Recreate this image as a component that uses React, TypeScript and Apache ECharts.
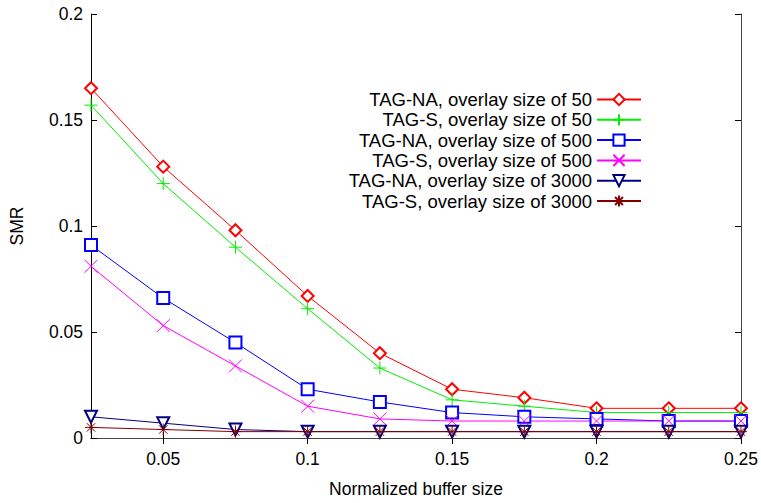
import React, { useEffect, useRef } from 'react';
import * as echarts from 'echarts';

const xValues = [0.025, 0.05, 0.075, 0.1, 0.125, 0.15, 0.175, 0.2, 0.225, 0.25];
const xTicks = [0.05, 0.1, 0.15, 0.2, 0.25];

const seriesNames = [
  'TAG-NA, overlay size of 50',
  'TAG-S, overlay size of 50',
  'TAG-NA, overlay size of 500',
  'TAG-S, overlay size of 500',
  'TAG-NA, overlay size of 3000',
  'TAG-S, overlay size of 3000',
];

const tagNa50 = [0.165, 0.128, 0.098, 0.067, 0.04, 0.023, 0.019, 0.014, 0.014, 0.014];
const tagS50 = [0.157, 0.12, 0.09, 0.061, 0.033, 0.018, 0.015, 0.012, 0.012, 0.012];
const tagNa500 = [0.091, 0.066, 0.045, 0.023, 0.017, 0.012, 0.01, 0.009, 0.008, 0.008];
const tagS500 = [0.081, 0.053, 0.034, 0.015, 0.009, 0.008, 0.008, 0.008, 0.008, 0.008];
const tagNa3000 = [0.01, 0.007, 0.004, 0.003, 0.003, 0.003, 0.003, 0.003, 0.003, 0.003];
const tagS3000 = [0.005, 0.004, 0.003, 0.003, 0.003, 0.003, 0.003, 0.003, 0.003, 0.003];

const seriesValues = [tagNa50, tagS50, tagNa500, tagS500, tagNa3000, tagS3000];
const colors = ['#ff0000', '#00ee00', '#0000ff', '#ff00ff', '#000080', '#800000'];
const symbols = [
  'emptyDiamond',
  'path://M0,5L10,5M5,0L5,10',
  'emptyRect',
  'path://M0,0L10,10M10,0L0,10',
  'emptyTriangle',
  'path://M0,5L10,5M5,0L5,10M1.5,1.5L8.5,8.5M8.5,1.5L1.5,8.5',
];
const symbolRotates = [0, 0, 0, 0, 180, 0];
const symbolSizes = [12, 13, 12, 13, 12, 12];

const FONT = 'Liberation Sans, Arial, Helvetica, sans-serif';

export default function App() {
  const ref = useRef<HTMLDivElement>(null);
  useEffect(() => {
    if (!ref.current) return;
    const chart = echarts.init(ref.current, undefined, { renderer: 'svg' });
    const series = seriesNames.map((name, i) => ({
      name,
      type: 'line',
      data: xValues.map((x, j) => [x, seriesValues[i][j]]),
      symbol: symbols[i],
      symbolSize: symbolSizes[i],
      symbolRotate: symbolRotates[i],
      clip: false,
      lineStyle: { color: colors[i], width: 1 },
      itemStyle: { color: colors[i], borderColor: colors[i], borderWidth: 1 },
      emphasis: { disabled: true },
    }));
    const axisFont = { fontFamily: FONT, fontSize: 17.5, color: '#000' };
    chart.setOption({
      animation: false,
      grid: { left: 86, right: 18, top: 14, bottom: 60 },
      legend: {
        orient: 'vertical',
        align: 'right',
        right: 119,
        top: 90,
        padding: 0,
        itemWidth: 44,
        itemHeight: 14,
        itemGap: 1.3,
        selectedMode: false,
        textStyle: { fontFamily: FONT, fontSize: 18.5, color: '#000' },
        data: seriesNames,
      },
      xAxis: [
        {
          type: 'value',
          min: 0.025,
          max: 0.25,
          name: 'Normalized buffer size',
          nameLocation: 'middle',
          nameGap: 42,
          nameTextStyle: axisFont,
          axisLine: { show: true, lineStyle: { color: '#000', width: 1 } },
          axisTick: { show: true, inside: true, length: 6, customValues: xTicks, lineStyle: { color: '#000' } },
          axisLabel: { customValues: xTicks, margin: 12, ...axisFont, formatter: (v: number) => String(+v.toFixed(3)) },
          splitLine: { show: false },
        },
        {
          type: 'value',
          position: 'top',
          min: 0.025,
          max: 0.25,
          axisLine: { show: true, lineStyle: { color: '#444', width: 1 } },
          axisTick: { show: true, inside: true, length: 6, customValues: xTicks, lineStyle: { color: '#000' } },
          axisLabel: { show: false },
          splitLine: { show: false },
        },
      ],
      yAxis: [
        {
          type: 'value',
          min: 0,
          max: 0.2,
          interval: 0.05,
          name: 'SMR',
          nameLocation: 'middle',
          nameGap: 65,
          nameTextStyle: axisFont,
          axisLine: { show: true, lineStyle: { color: '#000', width: 1 } },
          axisTick: { show: true, inside: true, length: 6, lineStyle: { color: '#000' } },
          axisLabel: { margin: 8, ...axisFont, formatter: (v: number) => String(+v.toFixed(3)) },
          splitLine: { show: false },
        },
        {
          type: 'value',
          position: 'right',
          min: 0,
          max: 0.2,
          interval: 0.05,
          axisLine: { show: true, lineStyle: { color: '#444', width: 1 } },
          axisTick: { show: true, inside: true, length: 6, lineStyle: { color: '#000' } },
          axisLabel: { show: false },
          splitLine: { show: false },
        },
      ],
      series,
    });
    return () => chart.dispose();
  }, []);
  return <div ref={ref} style={{ width: 761, height: 503, position: 'absolute', left: 0, top: 0 }} />;
}
